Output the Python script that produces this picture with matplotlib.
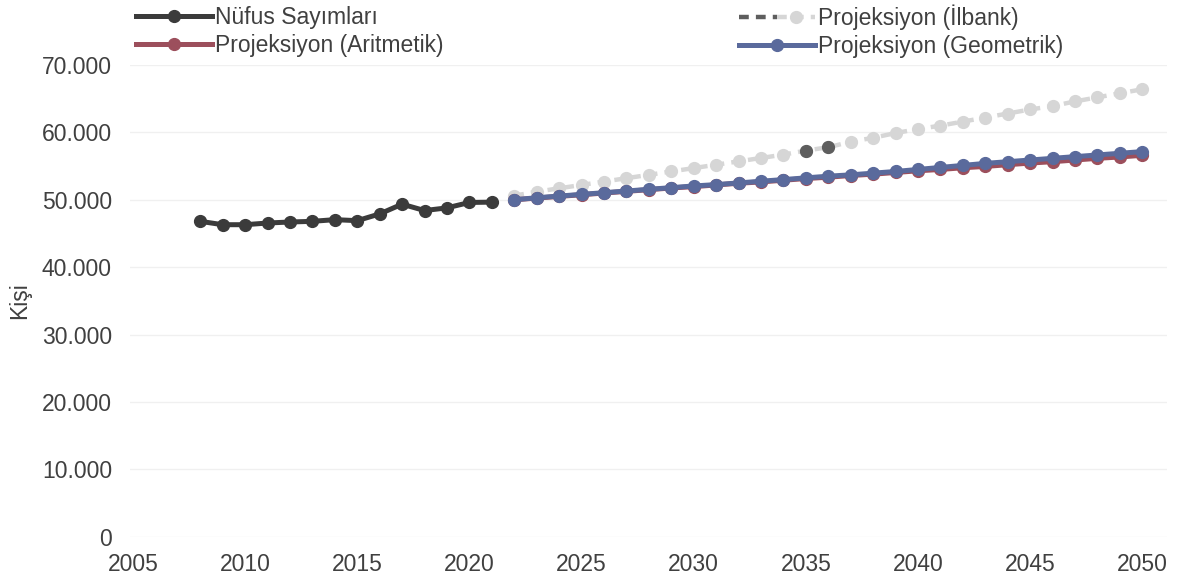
import numpy as np
import matplotlib
matplotlib.use("Agg")
import matplotlib.pyplot as plt
from matplotlib.ticker import FuncFormatter
from matplotlib.lines import Line2D
from matplotlib.legend_handler import HandlerTuple

plt.rcParams['font.family'] = ['Liberation Sans', 'DejaVu Sans']

# Census counts
census_years = list(range(2008, 2022))
census = [46800, 46300, 46300, 46550, 46700, 46800, 47050, 46900, 47900, 49350,
          48400, 48800, 49600, 49650]

# Projections 2022-2050
proj_years = list(range(2022, 2051))
arithmetic = [50000, 50250, 50500, 50750, 51000, 51250, 51500, 51750, 51950, 52200,
              52450, 52650, 52900, 53150, 53350, 53600, 53800, 54050, 54300, 54500,
              54750, 54950, 55200, 55450, 55650, 55900, 56150, 56350, 56600]
geometric = [50010, 50300, 50550, 50800, 51050, 51300, 51550, 51800, 52050, 52250,
             52500, 52750, 53000, 53250, 53500, 53700, 53950, 54200, 54500, 54800,
             55100, 55400, 55650, 55900, 56150, 56400, 56650, 56900, 57150]
ilbank = [50600, 51200, 51700, 52200, 52700, 53200, 53700, 54200, 54700, 55200,
          55700, 56200, 56700, 57300, 57800, 58600, 59200, 59900, 60500, 61000,
          61600, 62200, 62800, 63400, 63900, 64600, 65200, 65800, 66400]
ilbank_dark_years = [2035, 2036]

labels = ["Nüfus Sayımları", "Projeksiyon (Aritmetik)",
          "Projeksiyon (İlbank)", "Projeksiyon (Geometrik)"]

c_census = "#3b3b3b"
c_arith = "#9c4f5c"
c_geom = "#5a6a9c"
c_ilb = "#d6d6d6"
c_ilb_dark = "#5e5e5e"
txt = "#404040"

fig = plt.figure(figsize=(11.81, 5.83), dpi=100)
ax = fig.add_axes([130 / 1181, 1 - 536.7 / 583, (1167 - 130) / 1181, (536.7 - 65) / 583])

lw = 3.6
ms = 8.5

ilb_line, = ax.plot(proj_years, ilbank, color=c_ilb, lw=3.2, ls=(0, (2.2, 1.6)),
                    marker='o', ms=ms, mec=c_ilb, mfc=c_ilb, clip_on=False, zorder=2)
dark_idx = [proj_years.index(y) for y in ilbank_dark_years]
ax.plot([proj_years[i] for i in dark_idx], [ilbank[i] for i in dark_idx], 'o',
        color=c_ilb_dark, ms=ms, zorder=3, clip_on=False)

ar_line, = ax.plot(proj_years, arithmetic, color=c_arith, lw=lw, marker='o', ms=ms,
                   clip_on=False, zorder=4)
ge_line, = ax.plot(proj_years, geometric, color=c_geom, lw=lw, marker='o', ms=ms,
                   clip_on=False, zorder=5)
ce_line, = ax.plot(census_years, census, color=c_census, lw=lw, marker='o', ms=ms,
                   clip_on=False, zorder=5)

ax.set_xlim(2004.87, 2051.1)
ax.set_ylim(0, 70000)
ax.set_xticks(range(2005, 2051, 5))
ax.set_yticks(range(0, 70001, 10000))
ax.yaxis.set_major_formatter(FuncFormatter(lambda v, p: f"{int(v):,}".replace(",", ".")))
ax.tick_params(axis='both', length=0, labelsize=16.5, labelcolor=txt)
ax.tick_params(axis='y', pad=13)
ax.tick_params(axis='x', pad=12)
for s in ax.spines.values():
    s.set_visible(False)
ax.grid(axis='y', color='#f0f0f0', lw=1)
ax.set_axisbelow(True)
ax.set_ylabel("Kişi", fontsize=16.5, color=txt, labelpad=8)

# Legends (two columns placed independently)
leg_kw = dict(frameon=False, fontsize=16.5, handlelength=3.3, handletextpad=0.15,
              labelspacing=0.22, borderpad=0, borderaxespad=0, labelcolor=txt)
leg1 = fig.legend([ce_line, ar_line], labels[:2], loc='upper left',
                  bbox_to_anchor=(136 / 1181, 1 - 6 / 583), **leg_kw)
ilb_dark_h = Line2D([], [], color=c_ilb_dark, lw=3.2, ls=(0, (2.2, 1.6)))
ilb_h = Line2D([], [], color=c_ilb, lw=3.2, ls=(0, (2.2, 1.6)), marker='o', ms=ms)
leg2 = fig.legend([(ilb_dark_h, ilb_h), ge_line], labels[2:], loc='upper left',
                  bbox_to_anchor=(739 / 1181, 1 - 4 / 583),
                  handler_map={tuple: HandlerTuple(ndivide=None, pad=0)}, **leg_kw)

fig.savefig("out.png", dpi=100)
